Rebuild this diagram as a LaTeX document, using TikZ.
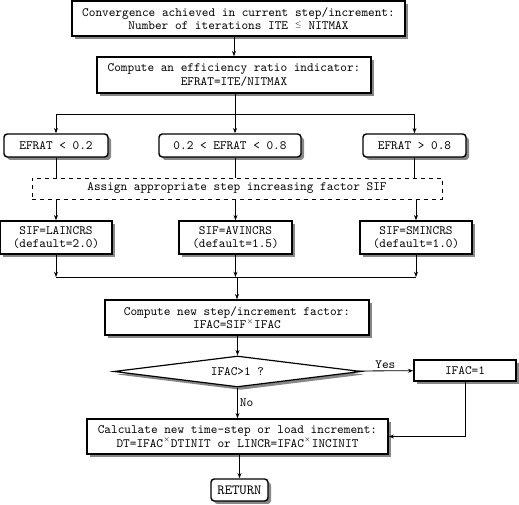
\documentclass[tikz,border=0pt]{standalone}
\usepackage{fontspec}
\usetikzlibrary{shapes.geometric,arrows.meta}
\tikzset{
  shad/.style={preaction={draw=none,fill=black!47,transform canvas={shift={(2.25pt,-2.25pt)}}}},
  box/.style={draw,line width=1.1pt,fill=white,shad,align=center,inner sep=0pt},
  rbox/.style={box,rounded corners=2.5pt},
  arr/.style={-{Stealth[length=4pt,width=3pt]}}
}
\begin{document}
\begin{tikzpicture}[x=0.75pt,y=-0.75pt,line width=0.6pt,
  every node/.style={font=\ttfamily\fontsize{9.5}{10}\selectfont}]
\useasboundingbox (0,0) rectangle (519,505);
\node[box,minimum width=249.75pt,minimum height=26.25pt](conv) at (238.5,18.5)
  {Convergence achieved in current step/increment:\\Number of iterations ITE \raisebox{2pt}{\tiny$\le$} NITMAX};
\node[box,minimum width=205.5pt,minimum height=27pt](eff) at (234,75)
  {Compute an efficiency ratio indicator:\\EFRAT=ITE/NITMAX};
% three ranges
\node[rbox,minimum width=78pt,minimum height=17.25pt](lo) at (56,145.5) {EFRAT < 0.2};
\node[rbox,minimum width=106.5pt,minimum height=17.25pt](mid) at (230,145.5) {0.2 < EFRAT < 0.8};
\node[rbox,minimum width=77.25pt,minimum height=17.25pt](hi) at (414.5,145.5) {EFRAT > 0.8};
\node[draw,dashed,line width=0.6pt,minimum width=307.5pt,minimum height=15.75pt,inner sep=0pt](assign) at (237,188.5)
  {Assign appropriate step increasing factor SIF};
\node[box,minimum width=84pt,minimum height=24.75pt](sifL) at (56,237.5) {SIF=LAINCRS\\(default=2.0)};
\node[box,minimum width=84.75pt,minimum height=24.75pt](sifM) at (235.5,237.5) {SIF=AVINCRS\\(default=1.5)};
\node[box,minimum width=84pt,minimum height=24.75pt](sifR) at (416,237.5) {SIF=SMINCRS\\(default=1.0)};
\node[box,minimum width=198pt,minimum height=26.25pt](newfac) at (237,317.5)
  {Compute new step/increment factor:\\IFAC=SIF\textsuperscript{\tiny$\times$}IFAC};
\node[draw,diamond,shape aspect=8,line width=0.9pt,fill=white,shad,inner sep=0pt,minimum width=185.25pt,minimum height=23.25pt](test) at (237.5,371.5) {IFAC>1 ?};
\node[box,minimum width=76.5pt,minimum height=15.75pt](one) at (465,370.5) {IFAC=1};
\node[box,minimum width=225.75pt,minimum height=26.25pt](calc) at (237.5,436.5)
  {Calculate new time-step or load increment:\\DT=IFAC\textsuperscript{\tiny$\times$}DTINIT or LINCR=IFAC\textsuperscript{\tiny$\times$}INCINIT};
\node[rbox,minimum width=42.75pt,minimum height=16.5pt,font=\ttfamily\fontsize{10.5}{11}\selectfont](ret) at (239.5,490) {RETURN};
% connectors
\coordinate (fork) at (235,114);
\coordinate (join) at (237,277);
\draw[arr] (conv) -- (conv.south -| eff) -- (eff);
\draw (eff.south -| fork) -- (fork);
\draw (fork -| lo) -- (fork -| hi);
\draw[arr] (fork -| lo) -- (lo);
\draw[arr] (fork) -- (fork |- mid.north);
\draw[arr] (fork -| hi) -- (hi);
\draw (lo) -- (lo |- assign.north);
\draw (mid.south -| fork) -- (fork |- assign.north);
\draw (hi) -- (hi |- assign.north);
\draw[arr] (assign.south -| sifL) -- (sifL);
\draw[arr] (assign.south -| sifM) -- (sifM);
\draw[arr] (assign.south -| sifR) -- (sifR);
\draw[arr] (sifL) -- (sifL |- join);
\draw[arr] (sifM) -- (sifM |- join);
\draw[arr] (sifR) -- (sifR |- join);
\draw (sifL |- join) -- (sifR |- join);
\draw[arr] (join) -- (join |- newfac.north);
\draw[arr] (newfac.south -| test) -- (test);
\draw[arr] (test) -- node[above,inner sep=1.5pt]{Yes} (one);
\draw[arr] (test) -- node[right,inner sep=1.5pt]{No} (calc);
\draw[arr] (one) |- (calc);
\draw[arr] (calc.south -| ret) -- (ret);
\end{tikzpicture}
\end{document}
